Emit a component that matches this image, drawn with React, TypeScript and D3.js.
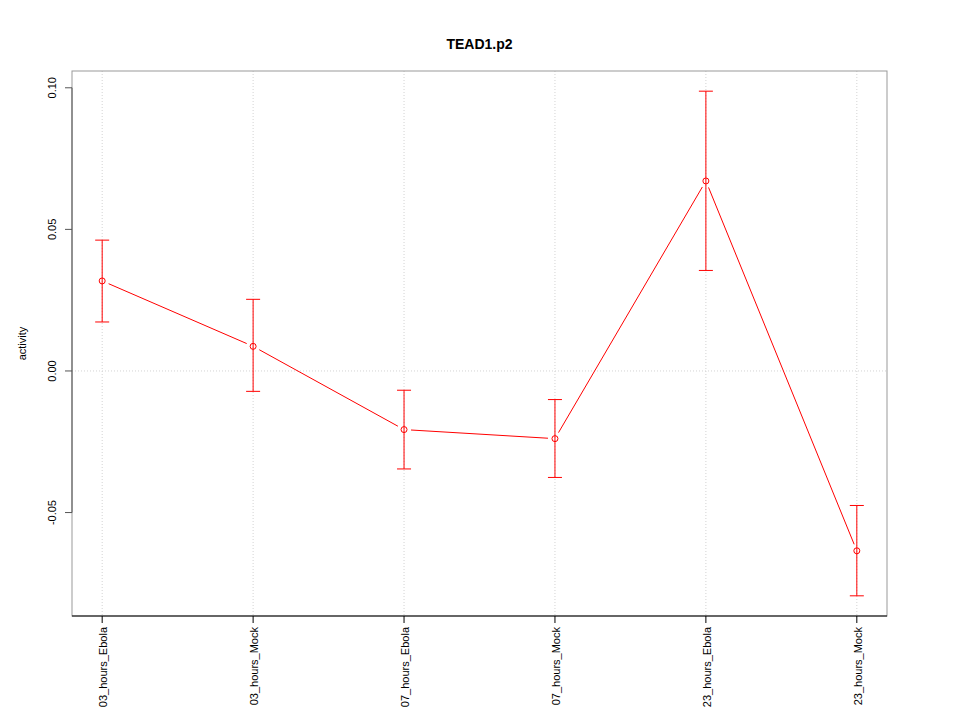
import React from "react";
import * as d3 from "d3";

const categories = ["03_hours_Ebola", "03_hours_Mock", "07_hours_Ebola", "07_hours_Mock", "23_hours_Ebola", "23_hours_Mock"];
const activity = [0.0318, 0.0087, -0.0207, -0.0239, 0.0671, -0.0635];
const upper = [0.0462, 0.0253, -0.0068, -0.0101, 0.0988, -0.0475];
const lower = [0.0173, -0.0072, -0.0346, -0.0376, 0.0355, -0.0794];
const yTicks = [-0.05, 0.0, 0.05, 0.1];
const title = "TEAD1.p2";
const yLabel = "activity";

export default function App() {
  const W = 960, H = 720;
  const left = 72, right = 887, top = 71, bottom = 616;
  const ymin = d3.min(lower)!, ymax = d3.max(upper)!;
  const pad = (ymax - ymin) * 0.04;
  const y = d3.scaleLinear().domain([ymin - pad, ymax + pad]).range([bottom, top]);
  const n = categories.length;
  const xpad = (n - 1) * 0.04;
  const x = d3.scaleLinear().domain([1 - xpad, n + xpad]).range([left, right]);
  const font = "'Liberation Sans', Arial, Helvetica, sans-serif";
  const red = "#ff0000";
  const gap = 7;

  const segs = [];
  for (let i = 0; i < n - 1; i++) {
    const x1 = x(i + 1), y1 = y(activity[i]);
    const x2 = x(i + 2), y2 = y(activity[i + 1]);
    const dx = x2 - x1, dy = y2 - y1;
    const len = Math.sqrt(dx * dx + dy * dy);
    if (len > 2 * gap) {
      const ux = dx / len, uy = dy / len;
      segs.push(
        <line key={"s" + i} x1={x1 + ux * gap} y1={y1 + uy * gap} x2={x2 - ux * gap} y2={y2 - uy * gap} stroke={red} strokeWidth={1} />
      );
    }
  }

  return (
    <svg width={W} height={H} style={{ position: "absolute", left: 0, top: 0, background: "#fff" }}>
      <rect x={0} y={0} width={W} height={H} fill="#fff" />
      {categories.map((c, i) => (
        <line key={"g" + i} x1={x(i + 1)} x2={x(i + 1)} y1={top} y2={bottom} stroke="#d3d3d3" strokeDasharray="1,2" strokeWidth={1} />
      ))}
      <line x1={left} x2={right} y1={y(0)} y2={y(0)} stroke="#d3d3d3" strokeDasharray="1,2" strokeWidth={1} />
      <rect x={left} y={top} width={right - left} height={bottom - top} fill="none" stroke="#999" strokeWidth={1} />
      <line x1={left} x2={left} y1={y(yTicks[0])} y2={y(yTicks[yTicks.length - 1])} stroke="#555" strokeWidth={1} />
      {yTicks.map((t, i) => (
        <g key={"yt" + i}>
          <line x1={left - 7} x2={left} y1={y(t)} y2={y(t)} stroke="#555" strokeWidth={1} />
          <text transform={`translate(${left - 16},${y(t)}) rotate(-90)`} textAnchor="middle" fontFamily={font} fontSize={11} fill="#000">
            {t.toFixed(2)}
          </text>
        </g>
      ))}
      <line x1={left} x2={right} y1={bottom} y2={bottom} stroke="#000" strokeWidth={1} />
      {categories.map((c, i) => (
        <g key={"xt" + i}>
          <line x1={x(i + 1)} x2={x(i + 1)} y1={bottom} y2={bottom + 7} stroke="#000" strokeWidth={1} />
          <text transform={`translate(${x(i + 1) + 5},${bottom + 11}) rotate(-90)`} textAnchor="end" fontFamily={font} fontSize={11} fill="#000">
            {c}
          </text>
        </g>
      ))}
      {categories.map((c, i) => (
        <g key={"e" + i} stroke={red} strokeWidth={1}>
          <line x1={x(i + 1)} x2={x(i + 1)} y1={y(upper[i])} y2={y(lower[i])} />
          <line x1={x(i + 1) - 7} x2={x(i + 1) + 7} y1={y(upper[i])} y2={y(upper[i])} />
          <line x1={x(i + 1) - 7} x2={x(i + 1) + 7} y1={y(lower[i])} y2={y(lower[i])} />
        </g>
      ))}
      {segs}
      {categories.map((c, i) => (
        <circle key={"p" + i} cx={x(i + 1)} cy={y(activity[i])} r={3} fill="none" stroke={red} strokeWidth={1} />
      ))}
      <text x={(left + right) / 2} y={49} textAnchor="middle" fontFamily={font} fontSize={14} fontWeight="bold" fill="#000">
        {title}
      </text>
      <text transform={`translate(26,${(top + bottom) / 2}) rotate(-90)`} textAnchor="middle" fontFamily={font} fontSize={11} fill="#000">
        {yLabel}
      </text>
    </svg>
  );
}
